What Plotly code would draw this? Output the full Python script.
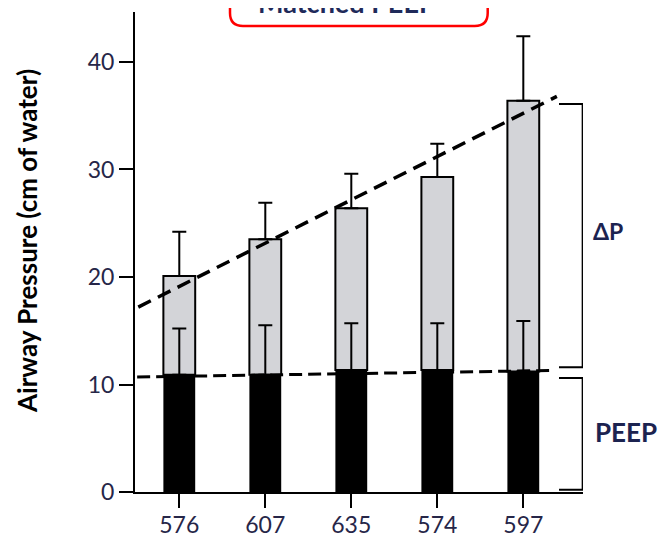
import plotly.graph_objects as go

# ---- data ----
subjects = ["576", "607", "635", "574", "597"]
peep = [10.9, 10.9, 11.35, 11.35, 11.2]          # PEEP (black bars)
peep_sd = [4.3, 4.6, 4.35, 4.35, 4.7]
total_p = [20.1, 23.5, 26.4, 29.3, 36.4]          # top of grey bars (PEEP + dP)
total_sd = [4.1, 3.4, 3.2, 3.1, 6.0]
y_ticks = [0, 10, 20, 30, 40]

# dashed guide lines (x in category index units, y in cm of water)
trend_x = [-0.477, 4.39]
trend_y = [17.2, 36.8]
peep_line_x = [-0.49, 4.31]
peep_line_y = [10.7, 11.3]

# bracket extents (cm of water)
dp_bracket = [11.6, 36.1]
peep_bracket = [0.2, 10.6]

x = list(range(len(subjects)))
delta_p = [t - p for t, p in zip(total_p, peep)]

FONT = "Lato"
TXT = "#262648"
BAR_W = 0.37

fig = go.Figure()

fig.add_trace(go.Bar(x=x, y=peep, width=BAR_W, marker=dict(color="black", line=dict(width=0)),
                     showlegend=False, hoverinfo="skip"))
fig.add_trace(go.Bar(x=x, y=delta_p, base=peep, width=BAR_W,
                     marker=dict(color="#d3d4d8", line=dict(color="black", width=2)),
                     showlegend=False, hoverinfo="skip"))

# error bars (drawn above the bars)
for yv, err in ((peep, peep_sd), (total_p, total_sd)):
    fig.add_trace(go.Scatter(
        x=x, y=yv, mode="markers", marker=dict(size=1, opacity=0),
        error_y=dict(type="data", array=err, arrayminus=[0] * len(err), symmetric=False,
                     color="black", thickness=2, width=7),
        showlegend=False, hoverinfo="skip"))

# dashed lines
fig.add_trace(go.Scatter(x=trend_x, y=trend_y, mode="lines",
                         line=dict(color="black", width=3.5, dash="14px,8px"),
                         showlegend=False, hoverinfo="skip"))
fig.add_trace(go.Scatter(x=peep_line_x, y=peep_line_y, mode="lines",
                         line=dict(color="black", width=3, dash="13px,6px"),
                         showlegend=False, hoverinfo="skip"))

# brackets
bx0, bx1 = 4.415, 4.69
for lo, hi in (dp_bracket, peep_bracket):
    fig.add_shape(type="path", xref="x", yref="y",
                  path=f"M {bx0} {hi} L {bx1} {hi} L {bx1} {lo} L {bx0} {lo}",
                  line=dict(color="black", width=2))

# page-pixel helpers (page has an 8px body margin)
OFF = 8
L, T, W, H = 135, 12, 448, 480
def px(p): return (p - L) / W
def py(p): return (T + H - p) / H

fig.add_annotation(x=px(591), y=py(231), xref="paper", yref="paper", text="<b>ΔP</b>",
                   showarrow=False, xanchor="left", yanchor="middle",
                   font=dict(family=FONT, size=23, color="#1c2350"))
fig.add_annotation(x=px(593), y=py(432), xref="paper", yref="paper", text="<b>PEEP</b>",
                   showarrow=False, xanchor="left", yanchor="middle",
                   font=dict(family=FONT, size=26, color="#1c2350"))

# title box (cut off at top)
x0, x1, yb, ytop, r = 230, 487.7, 26, -30, 13
path = (f"M {px(x0)} {py(ytop)} L {px(x0)} {py(yb - r)} "
        f"Q {px(x0)} {py(yb)} {px(x0 + r)} {py(yb)} "
        f"L {px(x1 - r)} {py(yb)} Q {px(x1)} {py(yb)} {px(x1)} {py(yb - r)} "
        f"L {px(x1)} {py(ytop)}")
fig.add_shape(type="path", xref="paper", yref="paper", path=path,
              line=dict(color="#ff0000", width=2.5))
fig.add_annotation(x=px((x0 + x1) / 2 - 12), y=py(21), xref="paper", yref="paper",
                   text="<b>Matched PEEP</b>", showarrow=False, yanchor="bottom",
                   font=dict(family=FONT, size=27, color="#1f2a5a"))

# y axis title
fig.add_annotation(x=px(27), y=py(241), xref="paper", yref="paper",
                   text="<b>Airway Pressure (cm of water)</b>", textangle=-90, showarrow=False,
                   xanchor="center", yanchor="middle",
                   font=dict(family=FONT, size=26, color="black"))

fig.update_layout(
    width=666, height=538,
    margin=dict(l=L - OFF, r=666 - (L - OFF) - W, t=T - OFF, b=538 - (T - OFF) - H,
                autoexpand=False),
    paper_bgcolor="white", plot_bgcolor="white",
    barmode="overlay", showlegend=False,
    font=dict(family=FONT, color=TXT),
)
fig.update_xaxes(range=[-0.515, 4.694], tickvals=x, ticktext=subjects, automargin=False,
                 showline=True, linecolor="black", linewidth=2,
                 ticks="outside", ticklen=14, tickwidth=2, tickcolor="black",
                 ticklabelstandoff=-3,
                 showgrid=False, zeroline=False, tickfont=dict(family=FONT, size=23, color=TXT))
fig.update_yaxes(range=[0, 44.65], tickvals=y_ticks, automargin=False,
                 showline=True, linecolor="black", linewidth=2,
                 ticks="outside", ticklen=14, tickwidth=2, tickcolor="black",
                 showgrid=False, zeroline=False, tickfont=dict(family=FONT, size=23, color=TXT))

fig.write_html("out.html")
